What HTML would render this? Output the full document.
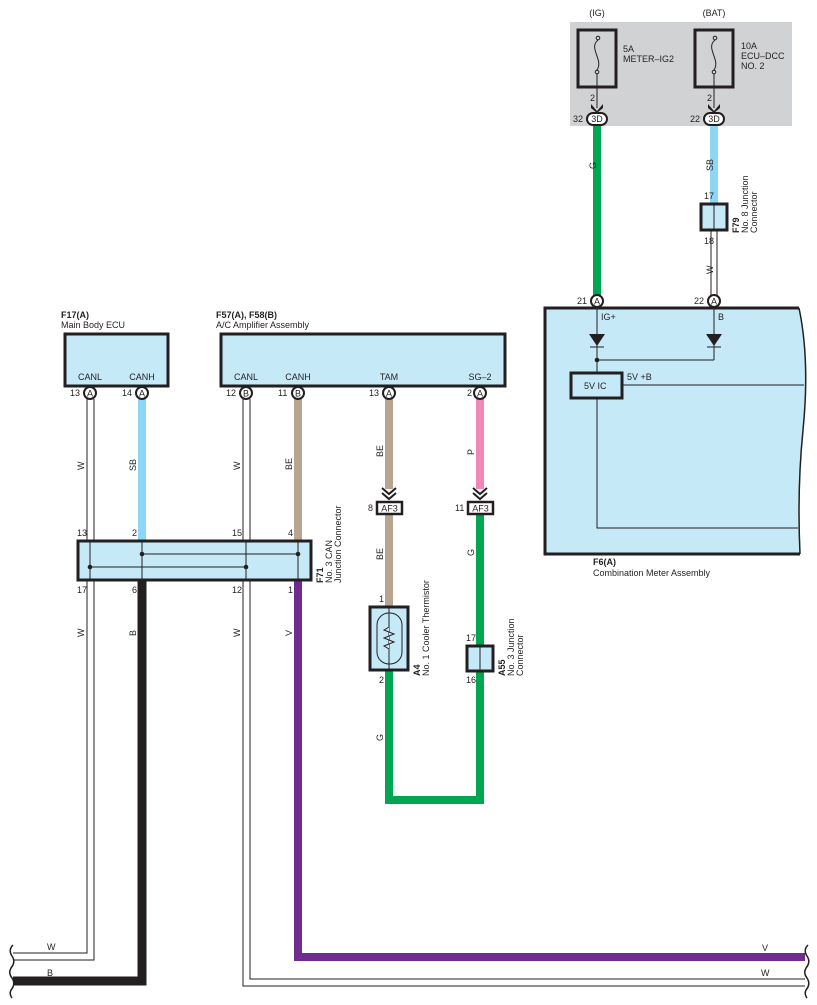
<!DOCTYPE html>
<html><head><meta charset="utf-8"><style>
html,body{margin:0;padding:0;background:#fff}
svg{display:block}
text{font-family:"Liberation Sans",sans-serif;font-size:9px;fill:#231f20}
.b{font-weight:bold}
</style></head><body>
<svg width="817" height="1005" viewBox="0 0 817 1005" xmlns="http://www.w3.org/2000/svg">
<defs>
<marker id="n" markerWidth="1" markerHeight="1"/>
</defs>
<!-- gray fuse area -->
<rect x="570" y="22" width="222" height="104" fill="#d1d2d4"/>
<text x="597" y="16" text-anchor="middle">(IG)</text>
<text x="714" y="16" text-anchor="middle">(BAT)</text>
<rect x="578" y="30" width="38" height="57" fill="none" stroke="#231f20" stroke-width="3"/>
<rect x="695" y="30" width="38" height="57" fill="none" stroke="#231f20" stroke-width="3"/>
<g fill="none" stroke="#231f20" stroke-width="1">
<circle cx="598" cy="38" r="1.8"/><circle cx="597" cy="72" r="1.8"/>
<path d="M598 40 C588 48,604 60,597 70"/>
<circle cx="715" cy="38" r="1.8"/><circle cx="714" cy="72" r="1.8"/>
<path d="M715 40 C705 48,721 60,714 70"/>
<line x1="597" y1="74" x2="597" y2="108"/>
<line x1="714" y1="74" x2="714" y2="108"/>
</g>
<text x="623" y="52">5A</text><text x="623" y="62">METER–IG2</text>
<text x="741" y="49">10A</text><text x="741" y="59">ECU–DCC</text><text x="741" y="69">NO. 2</text>
<text x="590" y="101">2</text><text x="707" y="101">2</text>
<path d="M591 104 L597 111 L603 104 L603 108 L597 113 L591 108Z" fill="#231f20"/>
<path d="M708 104 L714 111 L720 104 L720 108 L714 113 L708 108Z" fill="#231f20"/>
<rect x="587" y="113" width="20" height="12" rx="6" fill="#fff" stroke="#231f20" stroke-width="2"/>
<text x="597" y="122" text-anchor="middle">3D</text>
<rect x="704" y="113" width="20" height="12" rx="6" fill="#fff" stroke="#231f20" stroke-width="2"/>
<text x="714" y="122" text-anchor="middle">3D</text>
<text x="573" y="122">32</text><text x="690" y="122">22</text>
<!-- top wires -->
<rect x="593" y="126" width="8" height="170" fill="#00a651"/>
<rect x="710" y="126" width="8" height="77" fill="#8dd6f5"/>
<g fill="none" stroke="#231f20" stroke-width="1">
<line x1="711" y1="230" x2="711" y2="296"/><line x1="717" y1="230" x2="717" y2="296"/>
</g>
<rect x="701" y="204" width="26" height="26" fill="#c6e9f8" stroke="#231f20" stroke-width="3"/>
<line x1="714" y1="204" x2="714" y2="230" stroke="#231f20"/>
<text x="704" y="199">17</text><text x="704" y="244">18</text>
<text transform="translate(596,169) rotate(-90)">G</text>
<text transform="translate(713,171) rotate(-90)">SB</text>
<text transform="translate(713,274) rotate(-90)">W</text>
<text transform="translate(739,233) rotate(-90)" class="b">F79</text>
<text transform="translate(748,233) rotate(-90)">No.  8 Junction</text>
<text transform="translate(757,233) rotate(-90)">Connector</text>
<!-- meter -->
<path d="M545 308 L799 308 Q810 360 803 430 Q797 490 800 554 L545 554 Z" fill="#c6e9f8"/>
<path d="M799 308 Q810 360 803 430 Q797 490 800 554" fill="none" stroke="#231f20" stroke-width="1.5"/>
<path d="M800 554 L545 554 L545 308 L799 308" fill="none" stroke="#231f20" stroke-width="3"/>
<g fill="none" stroke="#231f20" stroke-width="1">
<line x1="597" y1="308" x2="597" y2="372"/>
<line x1="714" y1="308" x2="714" y2="360"/>
<line x1="597" y1="360" x2="714" y2="360"/>
<line x1="622" y1="385" x2="804" y2="385"/>
<polyline points="597,398 597,528 798,528"/>
<line x1="590" y1="347" x2="604" y2="347"/><line x1="707" y1="347" x2="721" y2="347"/>
</g>
<path d="M589 334 L605 334 L597 346Z" fill="#231f20"/>
<path d="M706 334 L722 334 L714 346Z" fill="#231f20"/>
<circle cx="597" cy="360" r="2.3" fill="#231f20"/>
<rect x="571" y="373" width="51" height="25" fill="#c6e9f8" stroke="#231f20" stroke-width="3"/>
<text x="584" y="389">5V IC</text>
<text x="627" y="380">5V +B</text>
<text x="601" y="320">IG+</text><text x="718" y="320">B</text>
<circle cx="597" cy="301" r="6" fill="#fff" stroke="#231f20" stroke-width="2"/><text x="597" y="304.5" text-anchor="middle">A</text>
<circle cx="714" cy="301" r="6" fill="#fff" stroke="#231f20" stroke-width="2"/><text x="714" y="304.5" text-anchor="middle">A</text>
<text x="577" y="304">21</text><text x="694" y="304">22</text>
<text x="593" y="565" class="b">F6(A)</text><text x="593" y="576">Combination Meter Assembly</text>
<!-- ECU boxes -->
<text x="61" y="318" class="b">F17(A)</text><text x="61" y="328">Main Body ECU</text>
<rect x="65" y="334" width="103" height="52" fill="#c6e9f8" stroke="#231f20" stroke-width="3"/>
<text x="90" y="380" text-anchor="middle">CANL</text><text x="142" y="380" text-anchor="middle">CANH</text>
<text x="216" y="318" class="b">F57(A), F58(B)</text><text x="216" y="328">A/C Amplifier Assembly</text>
<rect x="221" y="334" width="284" height="52" fill="#c6e9f8" stroke="#231f20" stroke-width="3"/>
<text x="246" y="380" text-anchor="middle">CANL</text><text x="298" y="380" text-anchor="middle">CANH</text>
<text x="389" y="380" text-anchor="middle">TAM</text><text x="480" y="380" text-anchor="middle">SG–2</text>
<!-- wires under ECUs -->
<rect x="138" y="399" width="8" height="141" fill="#8dd6f5"/>
<rect x="294" y="399" width="8" height="141" fill="#b7a590"/>
<rect x="385" y="399" width="8" height="90" fill="#b7a590"/>
<rect x="476" y="399" width="8" height="90" fill="#f186b7"/>
<rect x="385" y="515" width="8" height="91" fill="#b7a590"/>
<path d="M389 671 L389 800 L480 800 L480 515" fill="none" stroke="#00a651" stroke-width="8"/>
<g fill="none" stroke="#231f20" stroke-width="1">
<line x1="87" y1="399" x2="87" y2="540"/><line x1="94" y1="399" x2="94" y2="540"/>
<line x1="243" y1="399" x2="243" y2="540"/><line x1="250" y1="399" x2="250" y2="540"/>
<polyline points="94,581 94,960 13,960"/><polyline points="87,581 87,953 13,953"/>
<polyline points="243,581 243,986 805,986"/><polyline points="250,581 250,979 805,979"/>
</g>
<polyline points="142,581 142,981 13,981" fill="none" stroke="#231f20" stroke-width="9"/>
<polyline points="298,581 298,957 805,957" fill="none" stroke="#702c91" stroke-width="8"/>
<!-- break marks -->
<g fill="none" stroke="#231f20" stroke-width="1.5">
<path d="M13 945 Q8 950 12 956 Q16 962 11 968 Q8 973 12 978 Q16 984 11 990 Q9 994 12 998"/>
<path d="M808 945 Q803 950 807 956 Q811 962 806 968 Q803 973 807 978 Q811 984 806 990 Q804 994 807 998"/>
</g>
<!-- connector circles -->
<g>
<circle cx="90" cy="393" r="6" fill="#fff" stroke="#231f20" stroke-width="2"/><text x="90" y="396.5" text-anchor="middle">A</text>
<circle cx="142" cy="393" r="6" fill="#fff" stroke="#231f20" stroke-width="2"/><text x="142" y="396.5" text-anchor="middle">A</text>
<circle cx="246" cy="393" r="6" fill="#fff" stroke="#231f20" stroke-width="2"/><text x="246" y="396.5" text-anchor="middle">B</text>
<circle cx="298" cy="393" r="6" fill="#fff" stroke="#231f20" stroke-width="2"/><text x="298" y="396.5" text-anchor="middle">B</text>
<circle cx="389" cy="393" r="6" fill="#fff" stroke="#231f20" stroke-width="2"/><text x="389" y="396.5" text-anchor="middle">A</text>
<circle cx="480" cy="393" r="6" fill="#fff" stroke="#231f20" stroke-width="2"/><text x="480" y="396.5" text-anchor="middle">A</text>
</g>
<text x="70" y="396">13</text><text x="122" y="396">14</text><text x="226" y="396">12</text>
<text x="278" y="396">11</text><text x="369" y="396">13</text><text x="467" y="396">2</text>
<!-- F71 -->
<rect x="78" y="541" width="233" height="39" fill="#c6e9f8" stroke="#231f20" stroke-width="3"/>
<g stroke="#231f20" stroke-width="1">
<line x1="90" y1="541" x2="90" y2="580"/><line x1="142" y1="541" x2="142" y2="580"/>
<line x1="246" y1="541" x2="246" y2="580"/><line x1="298" y1="541" x2="298" y2="580"/>
<line x1="142" y1="554" x2="298" y2="554"/><line x1="90" y1="567" x2="246" y2="567"/>
</g>
<g fill="#231f20"><circle cx="142" cy="554" r="2.3"/><circle cx="298" cy="554" r="2.3"/>
<circle cx="90" cy="567" r="2.3"/><circle cx="246" cy="567" r="2.3"/></g>
<text x="77" y="536">13</text><text x="132" y="536">2</text><text x="232" y="536">15</text><text x="288" y="536">4</text>
<text x="77" y="593">17</text><text x="132" y="593">6</text><text x="232" y="593">12</text><text x="288" y="593">1</text>
<text transform="translate(323,583) rotate(-90)" class="b">F71</text>
<text transform="translate(332,583) rotate(-90)">No.  3 CAN</text>
<text transform="translate(341,583) rotate(-90)">Junction Connector</text>
<!-- wire labels -->
<text transform="translate(84,470) rotate(-90)">W</text>
<text transform="translate(136,471) rotate(-90)">SB</text>
<text transform="translate(240,470) rotate(-90)">W</text>
<text transform="translate(292,470) rotate(-90)">BE</text>
<text transform="translate(383,457) rotate(-90)">BE</text>
<text transform="translate(474,455) rotate(-90)">P</text>
<text transform="translate(383,560) rotate(-90)">BE</text>
<text transform="translate(474,556) rotate(-90)">G</text>
<text transform="translate(84,637) rotate(-90)">W</text>
<text transform="translate(136,636) rotate(-90)">B</text>
<text transform="translate(240,637) rotate(-90)">W</text>
<text transform="translate(292,636) rotate(-90)">V</text>
<text transform="translate(383,741) rotate(-90)">G</text>
<text x="47" y="950">W</text><text x="47" y="976">B</text>
<text x="762" y="951">V</text><text x="761" y="976">W</text>
<!-- chevrons + AF3 -->
<g fill="none" stroke="#231f20" stroke-width="2">
<polyline points="382,488 389,494 396,488"/><polyline points="382,493 389,499 396,493"/>
<polyline points="473,488 480,494 487,488"/><polyline points="473,493 480,499 487,493"/>
</g>
<rect x="377" y="502" width="25" height="12" fill="#fff" stroke="#231f20" stroke-width="2.5"/>
<text x="389.5" y="511.5" text-anchor="middle">AF3</text>
<rect x="468" y="502" width="25" height="12" fill="#fff" stroke="#231f20" stroke-width="2.5"/>
<text x="480.5" y="511.5" text-anchor="middle">AF3</text>
<text x="368" y="511">8</text><text x="455" y="511">11</text>
<!-- thermistor -->
<rect x="370" y="607" width="38" height="63" fill="#c6e9f8" stroke="#231f20" stroke-width="3"/>
<rect x="377" y="613" width="25" height="51" rx="12" fill="none" stroke="#231f20" stroke-width="1"/>
<line x1="389" y1="607" x2="389" y2="670" stroke="#231f20"/>
<polyline points="389,627 384,630 394,634 384,638 394,642 384,646 389,649" fill="#c6e9f8" stroke="#231f20"/>
<text x="379" y="602">1</text><text x="379" y="683">2</text>
<text transform="translate(420,676) rotate(-90)" class="b">A4</text>
<text transform="translate(429,676) rotate(-90)">No.  1 Cooler Thermistor</text>
<!-- A55 -->
<rect x="467" y="646" width="26" height="25" fill="#c6e9f8" stroke="#231f20" stroke-width="3"/>
<line x1="480" y1="646" x2="480" y2="671" stroke="#231f20"/>
<text x="466" y="641">17</text><text x="466" y="683">16</text>
<text transform="translate(505,676) rotate(-90)" class="b">A55</text>
<text transform="translate(514,676) rotate(-90)">No.  3 Junction</text>
<text transform="translate(523,676) rotate(-90)">Connector</text>
</svg>
</body></html>
